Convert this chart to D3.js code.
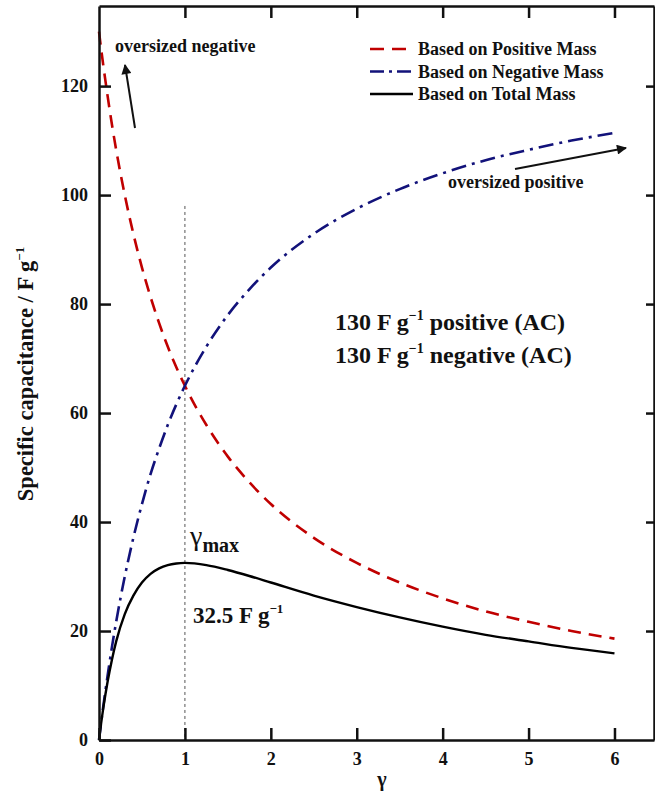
<!DOCTYPE html>
<html>
<head>
<meta charset="utf-8">
<script src="https://cdn.jsdelivr.net/npm/d3@7"></script>
<style>
  body { margin: 0; background: #fff; }
  svg text { font-family: "Liberation Serif", "Times New Roman", serif; font-weight: bold; fill: #111; }
</style>
</head>
<body>
<svg id="chart"></svg>
<script>
// values
const gamma = [0, 0.025, 0.05, 0.1, 0.15, 0.2, 0.3, 0.4, 0.5, 0.6, 0.7, 0.8, 0.9, 1, 1.25, 1.5, 1.75, 2, 2.5, 3, 3.5, 4, 4.5, 5, 5.5, 6];
const positiveMass = [130, 126.8, 123.8, 118.2, 113.0, 108.3, 100.0, 92.9, 86.7, 81.3, 76.5, 72.2, 68.4, 65.0, 57.8, 52.0, 47.3, 43.3, 37.1, 32.5, 28.9, 26.0, 23.6, 21.7, 20.0, 18.6];
const negativeMass = [0, 3.2, 6.2, 11.8, 17.0, 21.7, 30.0, 37.1, 43.3, 48.8, 53.5, 57.8, 61.6, 65.0, 72.2, 78.0, 82.7, 86.7, 92.9, 97.5, 101.1, 104.0, 106.4, 108.3, 110.0, 111.4];
const totalMass = [0, 3.1, 5.9, 10.7, 14.7, 18.1, 23.1, 26.5, 28.9, 30.5, 31.5, 32.1, 32.4, 32.5, 32.1, 31.2, 30.1, 28.9, 26.5, 24.4, 22.5, 20.8, 19.3, 18.1, 16.9, 15.9];
const xTicks = [0, 1, 2, 3, 4, 5, 6];
const yTicks = [0, 20, 40, 60, 80, 100, 120];
const legendLabels = ["Based on Positive Mass", "Based on Negative Mass", "Based on Total Mass"];

const width = 655, height = 794;
const margin = { top: 6, right: 1, bottom: 54, left: 99 };
const innerW = width - margin.left - margin.right;
const innerH = height - margin.top - margin.bottom;

const svg = d3.select("#chart").attr("width", width).attr("height", height);

svg.append("defs").append("marker")
    .attr("id", "arrow")
    .attr("viewBox", "0 0 10 10")
    .attr("refX", 9).attr("refY", 5)
    .attr("markerWidth", 14).attr("markerHeight", 10)
    .attr("markerUnits", "userSpaceOnUse")
    .attr("orient", "auto")
    .append("path")
    .attr("d", "M0,0 L10,5 L0,10 Z")
    .attr("fill", "#111");

const g = svg.append("g").attr("transform", `translate(${margin.left},${margin.top})`);

const x = d3.scaleLinear().domain([0, 6.46]).range([0, innerW]);
const y = d3.scaleLinear().domain([0, 134.7]).range([innerH, 0]);

const series = [
    { values: positiveMass, color: "#c00000", dash: "13,8", width: 2.6 },
    { values: negativeMass, color: "#12127a", dash: "15,6,3,6", width: 2.6 },
    { values: totalMass, color: "#000", dash: null, width: 2.4 }
];

// vertical marker at gamma = 1
g.append("line")
    .attr("x1", x(1)).attr("x2", x(1))
    .attr("y1", y(98)).attr("y2", y(0))
    .attr("stroke", "#555").attr("stroke-width", 1)
    .attr("stroke-dasharray", "3,3");

const line = d3.line().curve(d3.curveMonotoneX);

series.forEach(s => {
    g.append("path")
        .datum(gamma.map((d, i) => [x(d), y(s.values[i])]))
        .attr("d", line)
        .attr("fill", "none")
        .attr("stroke", s.color)
        .attr("stroke-width", s.width)
        .attr("stroke-dasharray", s.dash);
});

// axes, ticks pointing inward
const axisStyle = sel => {
    sel.select(".domain").attr("stroke-width", 2.5).attr("stroke", "#111");
    sel.selectAll(".tick line").attr("stroke-width", 2.5).attr("stroke", "#111");
    sel.selectAll("text").style("font-size", "18px").attr("font-family", null);
};

g.append("g")
    .attr("transform", `translate(0,${innerH})`)
    .call(d3.axisBottom(x).tickValues(xTicks).tickFormat(d3.format("d")).tickSize(-12).tickPadding(12).tickSizeOuter(0))
    .call(axisStyle);

g.append("g")
    .call(d3.axisTop(x).tickValues(xTicks.slice(1)).tickSize(-12).tickFormat("").tickSizeOuter(0))
    .call(axisStyle);

g.append("g")
    .call(d3.axisLeft(y).tickValues(yTicks).tickFormat(d3.format("d")).tickSize(-12).tickPadding(11).tickSizeOuter(0))
    .call(axisStyle);

g.append("g")
    .attr("transform", `translate(${innerW},0)`)
    .call(d3.axisRight(y).tickValues(yTicks.slice(1)).tickSize(-8).tickFormat("").tickSizeOuter(0))
    .call(axisStyle);

// axis titles
const yTitle = svg.append("text")
    .attr("transform", `translate(33,374) rotate(-90)`)
    .attr("text-anchor", "middle")
    .style("font-size", "22.5px");
yTitle.append("tspan").text("Specific capacitance / F g");
yTitle.append("tspan").attr("dy", -9).style("font-size", "13px").text("\u22121");

svg.append("text")
    .attr("x", 382).attr("y", 786)
    .attr("text-anchor", "middle")
    .style("font-size", "20px")
    .text("\u03b3");

// legend
const legend = svg.append("g");
legendLabels.forEach((label, i) => {
    const ly = 49 + i * 22.5;
    legend.append("line")
        .attr("x1", 370).attr("x2", 413)
        .attr("y1", ly).attr("y2", ly)
        .attr("stroke", series[i].color)
        .attr("stroke-width", series[i].width)
        .attr("stroke-dasharray", i === 0 ? "14,8" : i === 1 ? "14,5,3,5" : null);
    legend.append("text")
        .attr("x", 418).attr("y", ly + 6)
        .style("font-size", "18px")
        .text(label);
});

// annotations
svg.append("text").attr("x", 115).attr("y", 52).style("font-size", "18px").text("oversized negative");
svg.append("line")
    .attr("x1", 135).attr("y1", 128).attr("x2", 125).attr("y2", 65)
    .attr("stroke", "#111").attr("stroke-width", 2)
    .attr("marker-end", "url(#arrow)");

svg.append("text").attr("x", 448).attr("y", 188).style("font-size", "18px").text("oversized positive");
svg.append("line")
    .attr("x1", 515).attr("y1", 169).attr("x2", 626).attr("y2", 148)
    .attr("stroke", "#111").attr("stroke-width", 2)
    .attr("marker-end", "url(#arrow)");

const acLines = ["positive (AC)", "negative (AC)"];
acLines.forEach((t, i) => {
    const tx = svg.append("text").attr("x", 335).attr("y", 330 + i * 33).style("font-size", "24px");
    tx.append("tspan").text("130 F g");
    tx.append("tspan").attr("dy", -10).style("font-size", "14px").text("\u22121");
    tx.append("tspan").attr("dy", 10).text(" " + t);
});

const gm = svg.append("text").attr("x", 190).attr("y", 545).style("font-size", "28px").style("font-weight", "normal");
gm.append("tspan").text("\u03b3");
gm.append("tspan").attr("dy", 7).style("font-size", "20px").style("font-weight", "bold").text("max");

const pk = svg.append("text").attr("x", 193).attr("y", 623).style("font-size", "23px");
pk.append("tspan").text("32.5 F g");
pk.append("tspan").attr("dy", -10).style("font-size", "13px").text("\u22121");
</script>
</body>
</html>
